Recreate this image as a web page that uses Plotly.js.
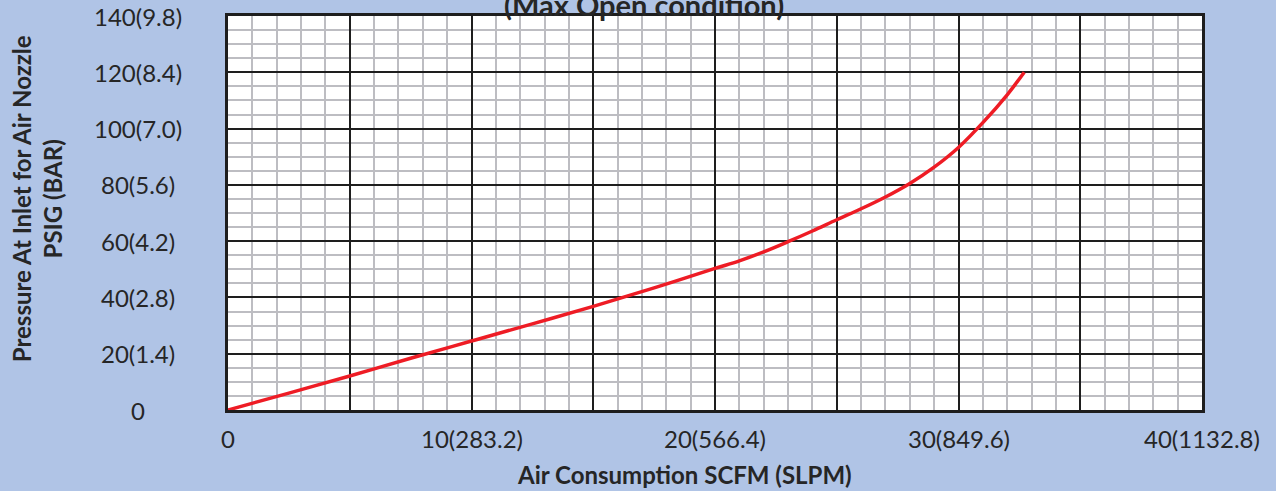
<!DOCTYPE html>
<html>
<head>
<meta charset="utf-8">
<script src="https://cdn.plot.ly/plotly-3.0.1.min.js"></script>
<style>html,body{margin:0;padding:0;background:#B0C4E6;}#chart{width:1276px;height:491px;}</style>
</head>
<body>
<div id="chart"></div>
<script>
// Air consumption (SCFM) vs inlet pressure (PSIG)
const airSCFM = [0, 2.5, 5, 7.5, 10, 12.5, 15, 17.5, 20, 21, 22, 23, 24, 25, 26, 27, 28, 29, 30, 31, 32, 32.7];
const pressurePSIG = [0, 6, 12.1, 18.4, 24.5, 30.6, 36.8, 43.4, 50.3, 53.0, 56.2, 59.8, 63.6, 67.6, 71.5, 75.7, 80.5, 86.3, 93.3, 102.1, 112, 120];

const xTickVals = [0, 10, 20, 30, 40];
const xTickText = ["0", "10(283.2)", "20(566.4)", "30(849.6)", "40(1132.8)"];
const yTickVals = [0, 20, 40, 60, 80, 100, 120, 140];
const yTickText = ["0", "20(1.4)", "40(2.8)", "60(4.2)", "80(5.6)", "100(7.0)", "120(8.4)", "140(9.8)"];

const titleText = "(Max Open condition)";
const xTitle = "Air Consumption SCFM (SLPM)";
const yTitle = "Pressure At Inlet for Air Nozzle<br>PSIG (BAR)";

const FONT = "Lato, 'Open Sans', sans-serif";
const TXT = "#262626";

const annotations = [];
xTickVals.forEach((v, i) => annotations.push({
  x: v, xref: "x", y: 0, yref: "paper", yanchor: "middle", xanchor: "center",
  yshift: -28, text: xTickText[i], showarrow: false,
  font: {family: FONT, size: 24, color: TXT}
}));
yTickVals.forEach((v, i) => annotations.push({
  x: 0, xref: "paper", xanchor: "center", xshift: -90, y: v, yref: "y", yanchor: "middle",
  text: yTickText[i], showarrow: false,
  font: {family: FONT, size: 24, color: TXT}
}));
annotations.push({
  x: (644 - 228) / (1202 - 228), xref: "paper", y: 1, yref: "paper", yanchor: "bottom", xanchor: "center",
  text: "<b>" + titleText + "</b>", showarrow: false, yshift: -8,
  font: {family: FONT, size: 29, color: TXT}
});
annotations.push({
  x: 0, xref: "paper", xanchor: "center", xshift: -191, y: 0.535, yref: "paper", yanchor: "middle",
  text: "<b>" + yTitle + "</b>", textangle: -90, showarrow: false,
  font: {family: FONT, size: 24, color: TXT}
});
annotations.push({
  x: 0.469, xref: "paper", xanchor: "center", y: 0, yref: "paper", yanchor: "middle", yshift: -64,
  text: "<b>" + xTitle + "</b>", showarrow: false,
  font: {family: FONT, size: 24, color: TXT}
});

const trace = {
  x: airSCFM, y: pressurePSIG, type: "scatter", mode: "lines",
  line: {color: "#EE1C25", width: 3.5, shape: "spline", smoothing: 1},
  hoverinfo: "skip"
};

const layout = {
  width: 1276, height: 491,
  paper_bgcolor: "#B0C4E6", plot_bgcolor: "#FFFFFF",
  margin: {l: 228, r: 74, t: 16, b: 81},
  showlegend: false,
  xaxis: {
    range: [0, 40], dtick: 5, tick0: 0, showticklabels: false, ticks: "",
    showgrid: true, gridcolor: "#1E1E1E", gridwidth: 2, zeroline: false,
    minor: {dtick: 1, showgrid: true, gridcolor: "#BDBDC2", gridwidth: 2, ticks: ""},
    showline: true, linecolor: "#1E1E1E", linewidth: 3, mirror: true, fixedrange: true
  },
  yaxis: {
    range: [0, 140], dtick: 20, tick0: 0, showticklabels: false, ticks: "",
    showgrid: true, gridcolor: "#1E1E1E", gridwidth: 2, zeroline: false,
    minor: {dtick: 5, showgrid: true, gridcolor: "#BDBDC2", gridwidth: 2, ticks: ""},
    showline: true, linecolor: "#1E1E1E", linewidth: 3, mirror: true, fixedrange: true
  },
  annotations: annotations
};

Plotly.newPlot("chart", [trace], layout, {displayModeBar: false, staticPlot: true});
</script>
</body>
</html>
